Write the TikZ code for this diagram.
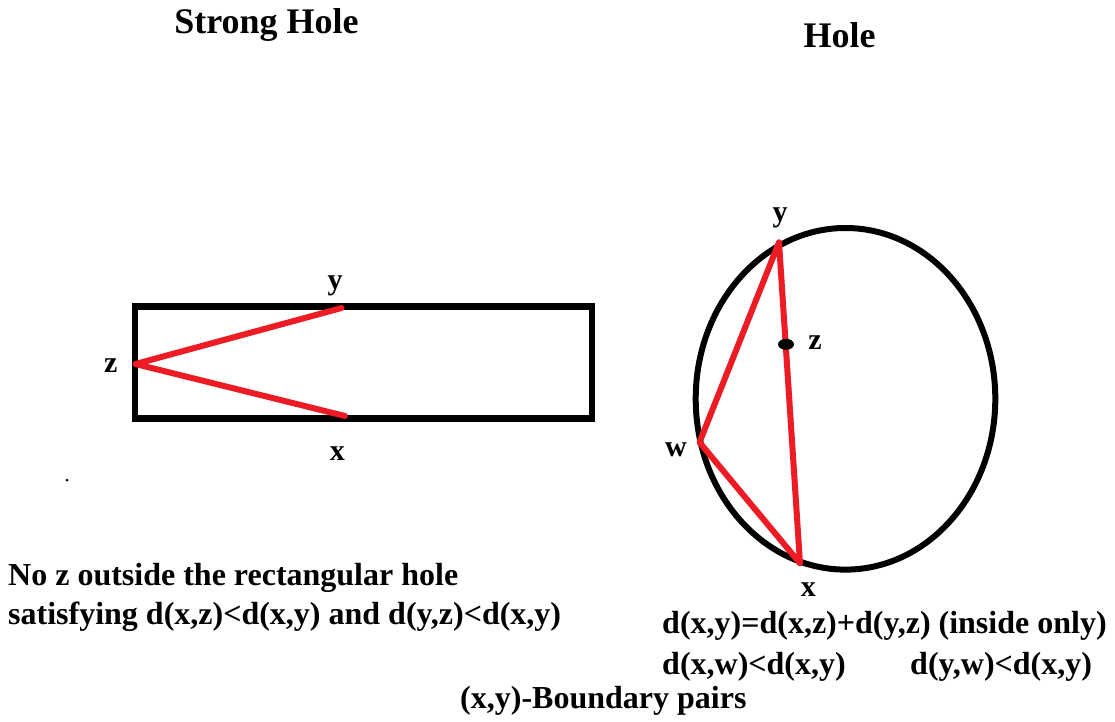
\documentclass[tikz,border=0pt]{standalone}
\usepackage{fontspec}
\setmainfont{Liberation Serif}
\definecolor{pred}{RGB}{237,28,36}
\begin{document}
\begin{tikzpicture}[x=1pt,y=-1pt,
  blk/.style={line width=6.5pt, draw=black},
  redl/.style={line width=6pt, draw=pred, line cap=round, line join=round},
  lbl/.style={font=\fontsize{30}{36}\selectfont\bfseries, anchor=base, inner sep=0pt},
  txt/.style={font=\fontsize{32}{39}\selectfont\bfseries, anchor=base west, inner sep=0pt},
  ttl/.style={font=\fontsize{36}{42}\selectfont\bfseries, anchor=base, inner sep=0pt}]
\useasboundingbox[fill=white] (0,0) rectangle (1115,721);
% titles
\node[ttl] (t1) at (266.5,33.5) {Strong Hole};
\node[ttl] (t2) at (839.5,47) {Hole};
% rectangle (strong hole)
\draw[blk] (135,306.7) rectangle (592,418.7);
\coordinate (rz) at (135.5,364);
\coordinate (ry) at (341.5,308);
\coordinate (rx) at (345,416);
\draw[redl] (ry) -- (rz) -- (rx);
\node[lbl] (lry) at (335,289) {y};
\node[lbl] (lrz) at (110.7,372.5) {z};
\node[lbl] (lrx) at (337.3,460) {x};
% stray dot
\fill (67,480) circle [radius=1.5];
% ellipse (hole)
\draw[line width=6pt] (845.5,398.8) ellipse [x radius=149.8, y radius=170.8];
\coordinate (ey) at (779,242.3);
\coordinate (ew) at (699.5,442.3);
\coordinate (ex) at (800,563.3);
\coordinate (ez) at (786,344.3);
\draw[redl] (ey) -- (ew) -- (ex) -- cycle;
\fill (ez) ellipse [x radius=8, y radius=5.5];
\node[lbl] (ley) at (780,221.5) {y};
\node[lbl] (lez) at (815,349.3) {z};
\node[lbl] (lew) at (676,456) {w};
\node[lbl] (lex) at (808.3,596.5) {x};
% texts
\node[txt] (b1) at (8,585) {No z outside the rectangular hole};
\node[txt] (b2) at (8,624) {satisfying d(x,z)<d(x,y) and d(y,z)<d(x,y)};
\node[txt] (c1) at (662,633) {d(x,y)=d(x,z)+d(y,z) (inside only)};
\node[txt] (c2) at (662,674) {d(x,w)<d(x,y)};
\node[txt] (c3) at (910,674) {d(y,w)<d(x,y)};
\node[txt] (c4) at (460,708) {(x,y)-Boundary pairs};
\end{tikzpicture}
\end{document}
